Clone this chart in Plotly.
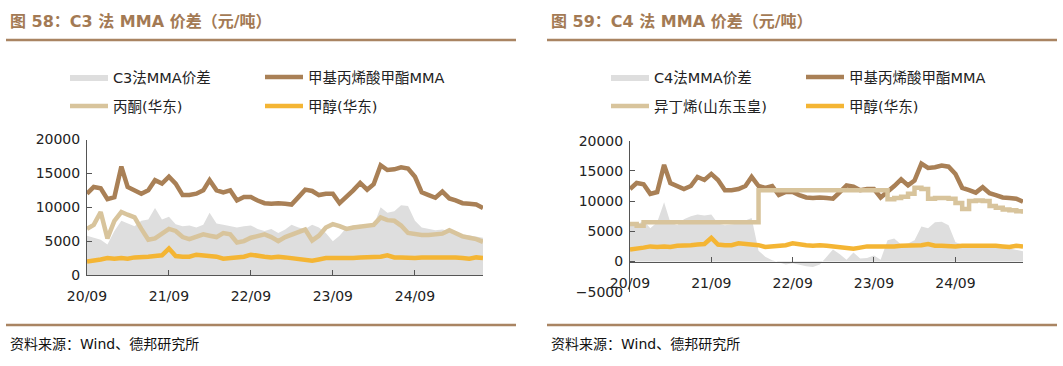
import pandas as pd
import plotly.graph_objects as go

W, H = 1063, 366

# ---------------- data (monthly, 2020-09 .. 2025-07) ----------------
dates = pd.date_range("2020-09-01", periods=59, freq="MS")

mma = [12000, 13000, 12800, 11200, 11500, 16000, 13000, 12500, 12000, 12500,
       14000, 13500, 14500, 13500, 11800, 11800, 12000, 12500, 14000, 12500,
       12200, 12500, 11000, 11500, 11500, 11000, 10600, 10500, 10600, 10500,
       10400, 11500, 12600, 12400, 11800, 12000, 12000, 10600, 11500, 12500,
       13600, 12600, 13400, 16200, 15500, 15600, 15900, 15700, 14500, 12200,
       11800, 11400, 12300, 11300, 11000, 10600, 10500, 10400, 9900]

acetone = [6800, 7400, 9300, 5400, 8000, 9300, 8900, 8500, 6800, 5200,
           5400, 6200, 6800, 6500, 5600, 5300, 5700, 6000, 5800, 5600,
           6200, 6000, 4800, 5000, 5500, 5800, 6000, 5600, 5000, 5600,
           6000, 6400, 6700, 5100, 5800, 7000, 7500, 7200, 6800, 7000,
           7100, 7200, 7400, 8500, 8100, 8000, 7300, 6200, 6000, 5900,
           5900, 6000, 6100, 6600, 6100, 5700, 5500, 5300, 4900]

methanol = [2000, 2100, 2300, 2500, 2400, 2500, 2400, 2600, 2600, 2700,
            2800, 2900, 3900, 2800, 2700, 2700, 3000, 2900, 2800, 2700,
            2400, 2500, 2500, 2700, 3000, 2800, 2700, 2600, 2700, 2600,
            2500, 2300, 2200, 2100, 2300, 2500, 2500, 2500, 2400, 2500,
            2600, 2600, 2700, 2700, 2900, 2600, 2600, 2500, 2500, 2600,
            2600, 2700, 2700, 2700, 2600, 2500, 2400, 2600, 2500]

c3_spread = [5800, 5500, 5200, 4500, 6500, 8000, 7600, 7200, 8000, 8200,
             9900, 8200, 8600, 7500, 7200, 7300, 7000, 7400, 9200, 7600,
             7400, 7200, 7000, 7200, 7300, 6800, 6500, 6800, 6200, 6700,
             7400, 7000, 6800, 7400, 7000, 6200, 5000, 5800, 7000, 7300,
             7400, 7000, 7300, 10000, 9200, 9400, 10300, 10200, 8000, 7000,
             6800, 6600, 6700, 6500, 6300, 6000, 5800, 5600, 5500]

isobutene = [6200, 5900, 6500, 6500, 6500, 6500, 6500, 6500, 6500, 6500,
             6500, 6500, 6500, 6500, 6500, 6500, 6500, 6500, 6500, 11800,
             11800, 11800, 11800, 11800, 11800, 11800, 11800, 11800, 11800, 11800,
             11800, 11800, 11800, 11800, 11800, 11800, 11800, 11800, 10300, 10500,
             10700, 11200, 12200, 12000, 10400, 10500, 10500, 10400, 9700, 8700,
             10000, 10100, 10000, 9200, 8900, 8600, 8500, 8300, 7900]

c4_spread = [6500, 6000, 6800, 5500, 6500, 9800, 6500, 6000, 7000, 7500,
             7800, 7600, 7800, 6300, 6000, 6200, 6300, 6800, 7200, 1800,
             800, 200, -200, -500, -300, -600, -800, -900, -500, 800,
             2000, 1200, 300, 1500, 500, 600, 1000, 300, 3500, 3800,
             2800, 3000, 3500, 5800, 5500, 6500, 6600, 6000, 3200, 2800,
             2600, 2900, 2700, 2500, 2600, 2400, 2200, 2000, 1700]

tick_dates = ["2020-09-01", "2021-09-01", "2022-09-01", "2023-09-01", "2024-09-01"]
tick_labels = ["20/09", "21/09", "22/09", "23/09", "24/09"]

titles = ["图 58：C3 法 MMA 价差（元/吨）", "图 59：C4 法 MMA 价差（元/吨）"]
source = "资料来源：Wind、德邦研究所"

# ---------------- styles ----------------
C_MMA = "#a98056"
C_LIGHT = "#d8c49c"
C_METH = "#f4b534"
C_GRAY = "#dedede"
C_RULE = "#a98462"
C_TITLE = "#a37a54"
FONT = "DejaVu Sans, Noto Sans CJK SC, sans-serif"
LW = 4.5

def px_x(p):
    return p / W

def px_y(p):
    return 1 - p / H

fig = go.Figure()

# left panel
fig.add_trace(go.Scatter(x=dates, y=c3_spread, name="C3法MMA价差", mode="lines",
                         fill="tozeroy", fillcolor=C_GRAY, line=dict(width=0, color=C_GRAY),
                         xaxis="x", yaxis="y", legend="legend"))
fig.add_trace(go.Scatter(x=dates, y=mma, name="甲基丙烯酸甲酯MMA", mode="lines",
                         line=dict(width=LW, color=C_MMA), xaxis="x", yaxis="y", legend="legend"))
fig.add_trace(go.Scatter(x=dates, y=acetone, name="丙酮(华东)", mode="lines",
                         line=dict(width=LW, color=C_LIGHT), xaxis="x", yaxis="y", legend="legend2"))
fig.add_trace(go.Scatter(x=dates, y=methanol, name="甲醇(华东)", mode="lines",
                         line=dict(width=LW, color=C_METH), xaxis="x", yaxis="y", legend="legend2"))

# right panel
fig.add_trace(go.Scatter(x=dates, y=c4_spread, name="C4法MMA价差", mode="lines",
                         fill="tozeroy", fillcolor=C_GRAY, line=dict(width=0, color=C_GRAY),
                         xaxis="x2", yaxis="y2", legend="legend3"))
fig.add_trace(go.Scatter(x=dates, y=mma, name="甲基丙烯酸甲酯MMA", mode="lines",
                         line=dict(width=LW, color=C_MMA), xaxis="x2", yaxis="y2", legend="legend3"))
fig.add_trace(go.Scatter(x=dates, y=isobutene, name="异丁烯(山东玉皇)", mode="lines",
                         line=dict(width=LW, color=C_LIGHT, shape="hv"), xaxis="x2", yaxis="y2",
                         legend="legend4"))
fig.add_trace(go.Scatter(x=dates, y=methanol, name="甲醇(华东)", mode="lines",
                         line=dict(width=LW, color=C_METH), xaxis="x2", yaxis="y2", legend="legend4"))

axis_font = dict(family=FONT, size=14, color="#222222")
xcommon = dict(type="date", range=["2020-09-01", "2025-07-01"], tickmode="array",
               tickvals=tick_dates, ticktext=tick_labels, ticks="inside", ticklen=5,
               tickcolor="#555555", showline=True, linecolor="#555555", linewidth=1,
               showgrid=False, zeroline=False, tickfont=axis_font, ticklabelstandoff=8,
               automargin=False)
ycommon = dict(dtick=5000, tickformat="d", ticks="inside", ticklen=5, tickcolor="#555555",
               showline=True, linecolor="#555555", linewidth=1, showgrid=False,
               tickfont=axis_font, ticklabelstandoff=3, automargin=False)

# left geometry
lx0, lx1 = 87, 483
ly_top, ly_bot = 139.5, 275
# right geometry
rx0, rx1 = 630, 1023
ry_top, ry_bot = 140.7, 291.7
ry_zero = 261.7

fig.update_layout(
    xaxis=dict(domain=[px_x(lx0), px_x(lx1)], anchor="y", **xcommon),
    yaxis=dict(domain=[px_y(ly_bot), px_y(ly_top)], anchor="x", range=[0, 20000],
               zeroline=False, **ycommon),
    xaxis2=dict(domain=[px_x(rx0), px_x(rx1)], anchor="free", position=px_y(ry_zero), **xcommon),
    yaxis2=dict(domain=[px_y(ry_bot), px_y(ry_top)], anchor="x2", range=[-5000, 20000],
                zeroline=False, **ycommon),
)

leg_common = dict(orientation="h", xanchor="left", yanchor="middle", entrywidth=142,
                  entrywidthmode="pixels", itemwidth=38, traceorder="normal",
                  bgcolor="rgba(0,0,0,0)", borderwidth=0,
                  font=dict(family=FONT, size=14.5, color="#222222"))
fig.update_layout(
    legend=dict(x=px_x(65), y=px_y(77), **leg_common),
    legend2=dict(x=px_x(65), y=px_y(106), **leg_common),
    legend3=dict(x=px_x(606), y=px_y(77), **leg_common),
    legend4=dict(x=px_x(606), y=px_y(106), **leg_common),
)

annotations = []
for t, x0 in zip(titles, [8, 549]):
    annotations.append(dict(text="<b>" + t + "</b>", x=px_x(x0), y=px_y(22), xref="paper",
                            yref="paper", xanchor="left", yanchor="middle", showarrow=False,
                            font=dict(family=FONT, size=16, color=C_TITLE)))
for x0 in [8, 549]:
    annotations.append(dict(text=source, x=px_x(x0), y=px_y(344), xref="paper", yref="paper",
                            xanchor="left", yanchor="middle", showarrow=False,
                            font=dict(family=FONT, size=14, color="#111111")))

shapes = []
for a, b in [(6, 516), (547, 1057)]:
    for yy in [40, 325]:
        shapes.append(dict(type="line", xref="paper", yref="paper", x0=px_x(a), x1=px_x(b),
                           y0=px_y(yy), y1=px_y(yy), line=dict(color=C_RULE, width=2.5)))

fig.update_layout(width=W, height=H, margin=dict(l=0, r=0, t=0, b=0, autoexpand=False),
                  paper_bgcolor="white", plot_bgcolor="white",
                  annotations=annotations, shapes=shapes, showlegend=True)

fig.write_html("out.html", config={"displayModeBar": False},
               post_script="document.body.style.margin='0';document.body.style.padding='0';")
